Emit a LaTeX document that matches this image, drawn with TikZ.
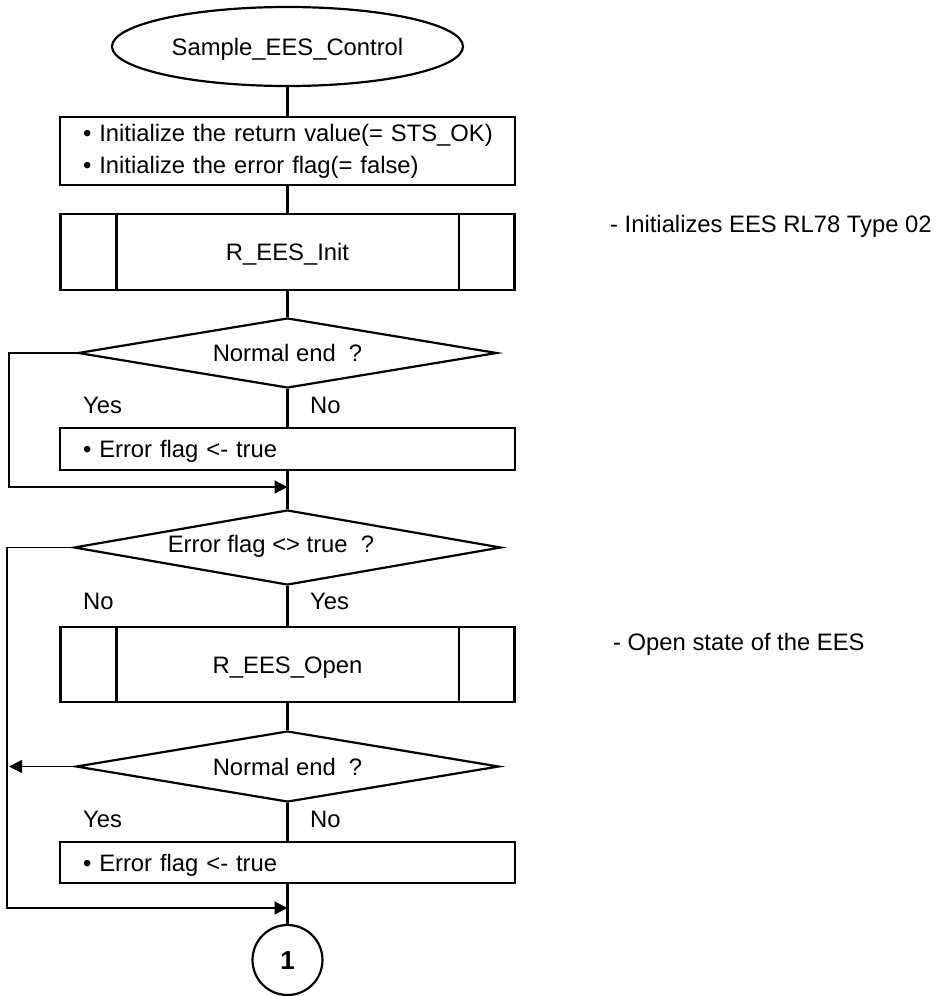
\documentclass[tikz,border=0pt]{standalone}
\usepackage{fontspec}
\setmainfont{Liberation Sans}
\usetikzlibrary{shapes.geometric,arrows.meta}
\begin{document}
\begin{tikzpicture}[x=1pt,y=-1pt,
  every node/.style={font=\fontsize{23.8}{32}\selectfont, inner sep=0pt},
  main/.style={line width=2.2pt},
  loopline/.style={line width=1.2pt},
  arr/.style={-{Triangle[length=13pt,width=13pt]}},
  term/.style={ellipse, draw, main, minimum width=351pt, minimum height=79pt, text height=17pt, text depth=0pt},
  procbox/.style={rectangle, draw, main, text width=409pt, align=left, inner xsep=23pt, inner ysep=0pt, minimum width=455pt},
  subbox/.style={rectangle, draw, main, minimum width=454pt, text height=17pt, text depth=0pt},
  decbox/.style={diamond, draw, main, aspect=6, text height=17pt, text depth=0pt},
  connc/.style={circle, draw, main, minimum size=70pt, text height=19pt, text depth=0pt, font=\fontsize{26}{32}\selectfont\bfseries},
  lbl/.style={anchor=base west}
]
\useasboundingbox (0,0) rectangle (939,996);

% nodes
\node[term] (start) at (287.5,46.5) {Sample\_EES\_Control};
\node[procbox, minimum height=68pt] (init) at (287.5,151) {\mbox{• Initialize the return value(= STS\_OK)}\\\mbox{• Initialize the error flag(= false)}};
\node[subbox, minimum height=76pt] (sub1) at (287.5,252) {R\_EES\_Init};
\node[decbox, minimum width=419pt, minimum height=70pt] (d1) at (287.5,353) {Normal end\ \ ?};
\node[procbox, minimum height=42pt, text height=17pt, text depth=0pt] (e1) at (287.5,449) {• Error flag <- true};
\node[decbox, minimum width=427pt, minimum height=75pt] (d2) at (287.5,547.5) {};
\node[anchor=base] (t2) at (271,552) {Error flag <> true\ \ ?};
\node[subbox, minimum height=75pt] (sub2) at (287.5,664.5) {R\_EES\_Open};
\node[decbox, minimum width=423pt, minimum height=71pt] (d3) at (287.5,766.5) {Normal end\ \ ?};
\node[procbox, minimum height=41pt, text height=17pt, text depth=0pt] (e2) at (287.5,862.5) {• Error flag <- true};
\node[connc] (c1) at (287.5,960) {1};

% subroutine side bars
\draw[main] ([xshift=57pt]sub1.north west) -- ([xshift=57pt]sub1.south west);
\draw[main] ([xshift=-57pt]sub1.north east) -- ([xshift=-57pt]sub1.south east);
\draw[main] ([xshift=57pt]sub2.north west) -- ([xshift=57pt]sub2.south west);
\draw[main] ([xshift=-57pt]sub2.north east) -- ([xshift=-57pt]sub2.south east);

% labels
\node[lbl] (y1) at (83,413) {Yes};
\node[lbl] (n1) at (310,413) {No};
\node[lbl] (n2) at (83,609) {No};
\node[lbl] (y2) at (310,609) {Yes};
\node[lbl] (y3) at (83,827) {Yes};
\node[lbl] (n3) at (310,827) {No};
\node[lbl] (r1) at (610,232) {- Initializes EES RL78 Type 02};
\node[lbl] (r2) at (613,650) {- Open state of the EES};

% junctions
\coordinate (j1) at (287.5,487);
\coordinate (j2) at (287.5,908);
\coordinate (l3) at (9,766.5);

% main flow
\draw[main] (start.south) -- (init.north);
\draw[main] (init.south) -- (sub1.north);
\draw[main] (sub1.south) -- (d1.north);
\draw[main] (d1.south) -- (e1.north);
\draw[main] (e1.south) -- (d2.north);
\draw[main] (d2.south) -- (sub2.north);
\draw[main] (sub2.south) -- (d3.north);
\draw[main] (d3.south) -- (e2.north);
\draw[main] (e2.south) -- (c1.north);

% loops
\draw[loopline, arr] (d1.west) -- ++(-68pt,0) |- (j1);
\draw[loopline, arr] (d2.west) -- ++(-66pt,0) |- (j2);
\draw[loopline, arr] (d3.west) -- (l3);
\end{tikzpicture}
\end{document}
